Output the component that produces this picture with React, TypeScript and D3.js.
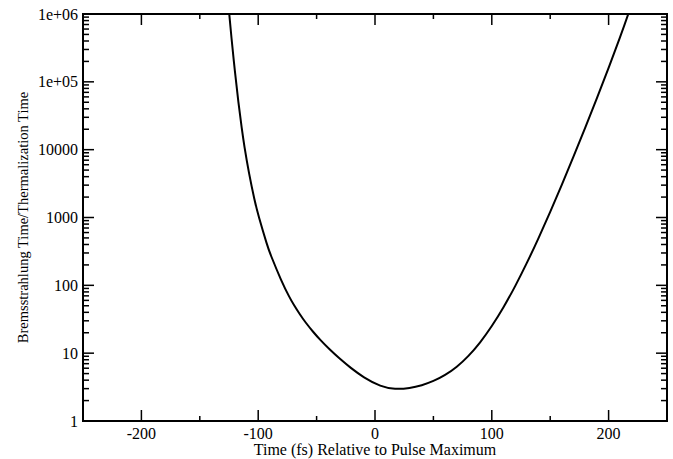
import React, { useEffect, useRef } from "react";
import * as d3 from "d3";

// Time (fs) and log10 of the ratio
const times = [-127, -125, -123, -120, -117, -114, -112, -108, -103, -100, -92, -90, -80, -73, -70, -64, -60, -53, -46, -39, -30, -21, -10, 5, 17, 30, 40, 50, 60, 70, 80, 90, 100, 110, 120, 130, 140, 150, 160, 170, 180, 190, 200, 210, 217, 225];
const logRatio = [6.44, 6.04, 5.665, 5.155, 4.7, 4.3, 4.062, 3.655, 3.244, 3.035, 2.573, 2.475, 2.055, 1.816, 1.725, 1.562, 1.465, 1.313, 1.178, 1.057, 0.914, 0.785, 0.644, 0.505, 0.466, 0.484, 0.524, 0.586, 0.674, 0.794, 0.954, 1.154, 1.394, 1.671, 1.984, 2.326, 2.694, 3.081, 3.484, 3.899, 4.324, 4.759, 5.204, 5.664, 6.004, 6.42];
const xTicks = [-200, -100, 0, 100, 200];
const xMinorTicks = [-250, -150, -50, 50, 150, 250];
const yTicks = [1, 10, 100, 1000, 10000, 1e5, 1e6];
const yTickLabels = ["1", "10", "100", "1000", "10000", "1e+05", "1e+06"];
const xTitle = "Time (fs) Relative to Pulse Maximum";
const yTitle = "Bremsstrahlung Time/Thermalization Time";

const W = 673, H = 459;
const M = { left: 83, right: 6, top: 14, bottom: 38 };
const FONT = "'Liberation Serif', 'Times New Roman', serif";

export default function App() {
  const ref = useRef<SVGSVGElement>(null);
  useEffect(() => {
    const svg = d3.select(ref.current);
    svg.selectAll("*").remove();
    const x0 = M.left, x1 = W - M.right, y0 = H - M.bottom, y1 = M.top;
    const x = d3.scaleLinear().domain([-250, 250]).range([x0, x1]);
    const y = d3.scaleLog().domain([1, 1e6]).range([y0, y1]);

    svg.append("clipPath").attr("id", "clip").append("rect")
      .attr("x", x0).attr("y", y1).attr("width", x1 - x0).attr("height", y0 - y1);

    const data = times.map((t, i) => ({ t, v: Math.pow(10, logRatio[i]) }));
    const line = d3.line<{ t: number; v: number }>()
      .x(d => x(d.t)).y(d => y(d.v)).curve(d3.curveBasis);
    svg.append("path").datum(data).attr("d", line as any)
      .attr("fill", "none").attr("stroke", "#000").attr("stroke-width", 2)
      .attr("clip-path", "url(#clip)");

    const g = svg.append("g").attr("stroke", "#000").attr("stroke-width", 1.5);
    xTicks.forEach(t => {
      g.append("line").attr("x1", x(t)).attr("x2", x(t)).attr("y1", y0).attr("y2", y0 - 11);
      g.append("line").attr("x1", x(t)).attr("x2", x(t)).attr("y1", y1).attr("y2", y1 + 11);
    });
    xMinorTicks.forEach(t => {
      g.append("line").attr("x1", x(t)).attr("x2", x(t)).attr("y1", y0).attr("y2", y0 - 5);
      g.append("line").attr("x1", x(t)).attr("x2", x(t)).attr("y1", y1).attr("y2", y1 + 5);
    });
    yTicks.forEach((v, i) => {
      g.append("line").attr("x1", x0).attr("x2", x0 + 11).attr("y1", y(v)).attr("y2", y(v));
      g.append("line").attr("x1", x1).attr("x2", x1 - 11).attr("y1", y(v)).attr("y2", y(v));
      if (i < yTicks.length - 1) {
        for (let k = 2; k <= 9; k++) {
          const yy = y(v * k);
          g.append("line").attr("x1", x0).attr("x2", x0 + 6).attr("y1", yy).attr("y2", yy);
          g.append("line").attr("x1", x1).attr("x2", x1 - 6).attr("y1", yy).attr("y2", yy);
        }
      }
    });
    svg.append("rect").attr("x", x0).attr("y", y1).attr("width", x1 - x0).attr("height", y0 - y1)
      .attr("fill", "none").attr("stroke", "#000").attr("stroke-width", 2);

    const txt = svg.append("g").attr("font-family", FONT).attr("fill", "#000");
    xTicks.forEach(t => {
      txt.append("text").attr("x", x(t)).attr("y", y0 + 18).attr("font-size", 16)
        .attr("text-anchor", "middle").text(String(t));
    });
    yTicks.forEach((v, i) => {
      txt.append("text").attr("x", x0 - 5).attr("y", y(v) + 5.5).attr("font-size", 16)
        .attr("text-anchor", "end").text(yTickLabels[i]);
    });
    txt.append("text").attr("x", (x0 + x1) / 2).attr("y", H - 4).attr("font-size", 16)
      .attr("text-anchor", "middle").text(xTitle);
    txt.append("text").attr("transform", `translate(28,${(y0 + y1) / 2}) rotate(-90)`)
      .attr("font-size", 14.5).attr("text-anchor", "middle").text(yTitle);
  }, []);
  return (
    <svg ref={ref} width={W} height={H}
      style={{ position: "absolute", left: 0, top: 0, display: "block", background: "#fff" }} />
  );
}
